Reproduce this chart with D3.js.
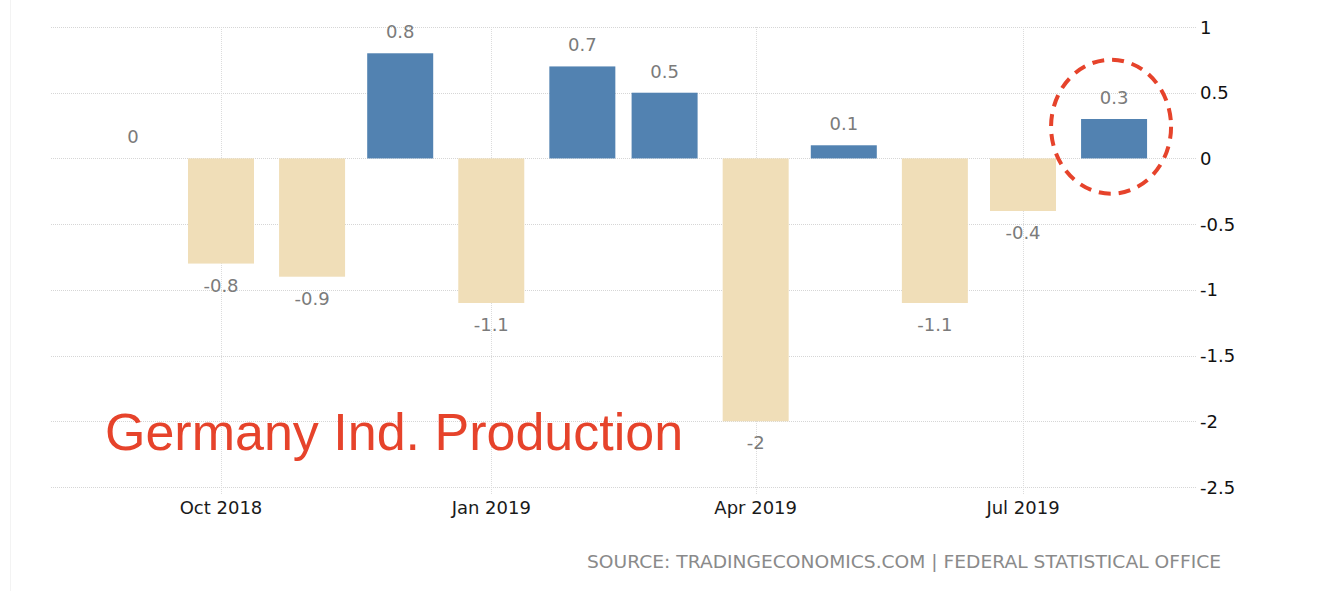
<!DOCTYPE html>
<html>
<head>
<meta charset="utf-8">
<script src="https://cdn.jsdelivr.net/npm/d3@7"></script>
<style>
  html, body { margin: 0; padding: 0; background: #fff; }
  svg { display: block; }
</style>
</head>
<body>
<svg id="chart" width="1332" height="591"></svg>
<script>
// ---- data ----
const months = ["2018-09-01","2018-10-01","2018-11-01","2018-12-01","2019-01-01","2019-02-01",
                "2019-03-01","2019-04-01","2019-05-01","2019-06-01","2019-07-01","2019-08-01"];
const values = [0, -0.8, -0.9, 0.8, -1.1, 0.7, 0.5, -2, 0.1, -1.1, -0.4, 0.3];
const xTickDates = ["2018-10-01","2019-01-01","2019-04-01","2019-07-01"];
const xTickLabels = ["Oct 2018","Jan 2019","Apr 2019","Jul 2019"];
const yTicks = [1, 0.5, 0, -0.5, -1, -1.5, -2, -2.5];
const yTickLabels = ["1","0.5","0","-0.5","-1","-1.5","-2","-2.5"];
const title = "Germany Ind. Production";
const source = "SOURCE: TRADINGECONOMICS.COM | FEDERAL STATISTICAL OFFICE";
const highlightIndex = 11;

const parse = d3.utcParse("%Y-%m-%d");
const data = months.map((m, i) => ({ date: parse(m), value: values[i] }));

const svg = d3.select("#chart");
const plotLeft = 51, plotRight = 1196, plotTop = 27, plotBottom = 487;

const x = d3.scaleUtc()
  .domain([parse("2018-10-01"), parse("2019-07-01")])
  .range([221, 1023]);
const y = d3.scaleLinear().domain([-2.5, 1]).range([plotBottom, plotTop]);
const barW = 66;

// faint left border
svg.append("line").attr("x1", 10.5).attr("x2", 10.5).attr("y1", 0).attr("y2", 591)
  .attr("stroke", "#f3f3f3").attr("stroke-width", 1);

// horizontal gridlines
svg.append("g").selectAll("line").data(yTicks).join("line")
  .attr("x1", plotLeft).attr("x2", plotRight)
  .attr("y1", d => Math.round(y(d)) + 0.5).attr("y2", d => Math.round(y(d)) + 0.5)
  .attr("stroke", "#d6d6d6").attr("stroke-dasharray", "1,1");

// vertical gridlines at x ticks
const xTickD = xTickDates.map(parse);
svg.append("g").selectAll("line").data(xTickD).join("line")
  .attr("x1", d => Math.round(x(d)) + 0.5).attr("x2", d => Math.round(x(d)) + 0.5)
  .attr("y1", plotTop).attr("y2", plotBottom + 8)
  .attr("stroke", "#dcdcdc").attr("stroke-dasharray", "1,1");

// bars
svg.append("g").selectAll("rect").data(data).join("rect")
  .attr("x", d => x(d.date) - barW / 2)
  .attr("width", barW)
  .attr("y", d => y(Math.max(0, d.value)))
  .attr("height", d => Math.abs(y(d.value) - y(0)))
  .attr("fill", d => d.value >= 0 ? "#5282b1" : "#f0deb8");

// value labels
svg.append("g").selectAll("text").data(data).join("text")
  .attr("x", d => x(d.date))
  .attr("y", d => d.value >= 0 ? y(d.value) - 15 : y(d.value) + 28)
  .attr("text-anchor", "middle")
  .attr("font-family", "DejaVu Sans, Verdana, sans-serif")
  .attr("font-size", 18)
  .attr("fill", "#7b7b7b")
  .text(d => String(d.value));

// x axis labels
svg.append("g").selectAll("text").data(xTickD).join("text")
  .attr("x", d => x(d))
  .attr("y", 514)
  .attr("text-anchor", "middle")
  .attr("font-family", "DejaVu Sans, Verdana, sans-serif")
  .attr("font-size", 18)
  .attr("fill", "#1a1a1a")
  .text((d, i) => xTickLabels[i]);

// y axis labels (right)
svg.append("g").selectAll("text").data(yTicks).join("text")
  .attr("x", 1200)
  .attr("y", d => y(d) + 6.5)
  .attr("text-anchor", "start")
  .attr("font-family", "DejaVu Sans, Verdana, sans-serif")
  .attr("font-size", 18)
  .attr("fill", "#111")
  .text((d, i) => yTickLabels[i]);

// highlight circle around last bar
const hd = data[highlightIndex];
svg.append("ellipse")
  .attr("cx", x(hd.date) - 3)
  .attr("cy", (y(hd.value) + y(0)) / 2 - 12)
  .attr("rx", 60).attr("ry", 67)
  .attr("fill", "none")
  .attr("stroke", "#e6432b")
  .attr("stroke-width", 4)
  .attr("stroke-dasharray", "12,8");

// title
svg.append("text")
  .attr("x", 105).attr("y", 450)
  .attr("font-family", "Liberation Sans, Arial, sans-serif")
  .attr("font-size", 52)
  .attr("fill", "#e6432b")
  .text(title);

// source
svg.append("text")
  .attr("x", 587).attr("y", 568)
  .attr("font-family", "DejaVu Sans, Verdana, sans-serif")
  .attr("font-size", 18)
  .attr("fill", "#8a8a8a")
  .attr("textLength", 634)
  .attr("lengthAdjust", "spacingAndGlyphs")
  .text(source);
</script>
</body>
</html>
